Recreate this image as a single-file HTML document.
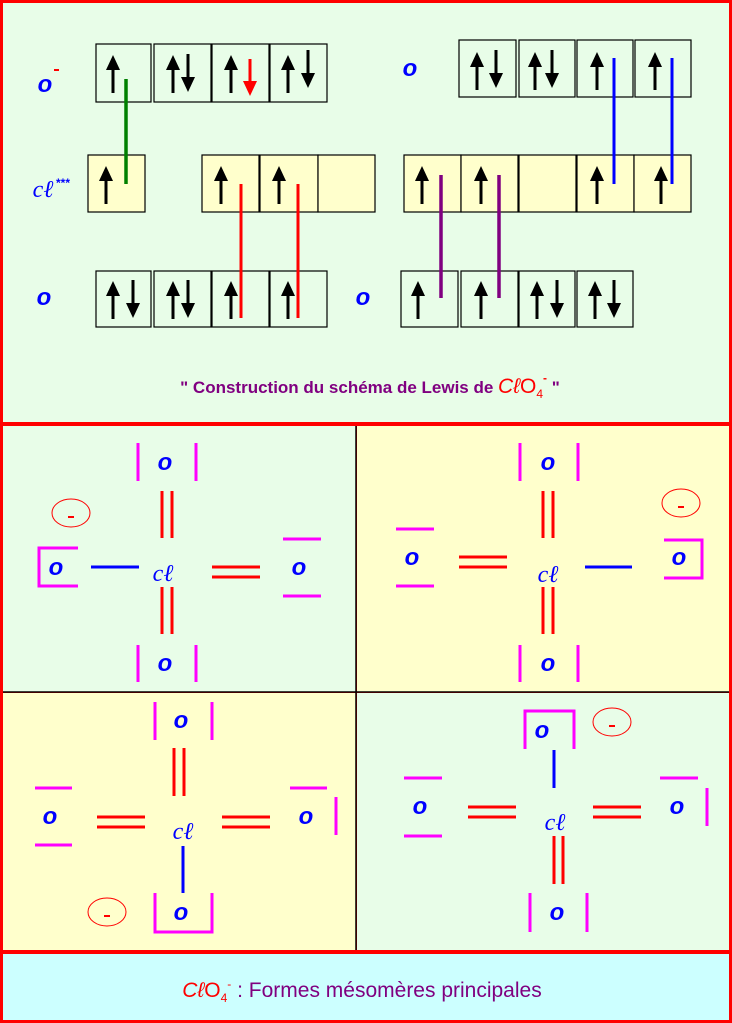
<!DOCTYPE html>
<html><head><meta charset="utf-8"><style>
body{margin:0;width:732px;height:1023px;overflow:hidden;background:#fff}
svg{display:block}
.o{font-family:"Liberation Sans",sans-serif;font-style:italic;font-weight:bold;fill:#0000ff;font-size:24px;text-anchor:middle}
.c{font-family:"Liberation Serif",serif;font-style:italic;fill:#0000ff;font-size:24px;text-anchor:middle}
</style></head><body>
<svg width="732" height="1023" viewBox="0 0 732 1023" xmlns="http://www.w3.org/2000/svg">
<defs>
<g id="up"><line x1="0" y1="12" x2="0" y2="38" stroke="#000" stroke-width="3"/><polygon points="-7,15 7,15 0,0" fill="#000"/></g>
<g id="dn"><line x1="0" y1="0" x2="0" y2="26" stroke="#000" stroke-width="3"/><polygon points="-7,23 7,23 0,38" fill="#000"/></g>
</defs>
<rect x="0" y="0" width="732" height="1023" fill="#ff0000"/>
<rect x="3" y="3" width="726" height="419" fill="#e8fde8"/>
<rect x="3" y="426" width="353" height="266" fill="#e8fde8"/>
<rect x="357" y="426" width="372" height="266" fill="#ffffcc"/>
<rect x="3" y="693" width="353" height="257" fill="#ffffcc"/>
<rect x="357" y="693" width="372" height="257" fill="#e8fde8"/>
<rect x="3" y="954" width="726" height="66" fill="#ccffff"/>
<line x1="356" y1="426" x2="356" y2="950" stroke="#000" stroke-width="1.5"/>
<line x1="3" y1="692" x2="729" y2="692" stroke="#000" stroke-width="1.5"/>

<g stroke="#000" stroke-width="1.2" fill="none">
<rect x="96" y="44" width="55" height="58"/><rect x="154" y="44" width="57" height="58"/><rect x="212" y="44" width="57" height="58"/><rect x="270" y="44" width="57" height="58"/>
<rect x="88" y="155" width="57" height="57" fill="#ffffcc"/>
<rect x="202" y="155" width="57" height="57" fill="#ffffcc"/><rect x="260" y="155" width="58" height="57" fill="#ffffcc"/><rect x="318" y="155" width="57" height="57" fill="#ffffcc"/>
<rect x="96" y="271" width="55" height="56"/><rect x="154" y="271" width="57" height="56"/><rect x="212" y="271" width="57" height="56"/><rect x="270" y="271" width="57" height="56"/>
<rect x="459" y="40" width="57" height="57"/><rect x="519" y="40" width="56" height="57"/><rect x="577" y="40" width="56" height="57"/><rect x="635" y="40" width="56" height="57"/>
<rect x="404" y="155" width="57" height="57" fill="#ffffcc"/><rect x="461" y="155" width="57" height="57" fill="#ffffcc"/><rect x="519" y="155" width="57" height="57" fill="#ffffcc"/><rect x="577" y="155" width="57" height="57" fill="#ffffcc"/><rect x="634" y="155" width="57" height="57" fill="#ffffcc"/>
<rect x="401" y="271" width="57" height="56"/><rect x="461" y="271" width="57" height="56"/><rect x="519" y="271" width="56" height="56"/><rect x="577" y="271" width="56" height="56"/>
</g>
<use href="#up" x="113" y="55"/>
<use href="#up" x="173" y="55"/><use href="#dn" x="188" y="54"/>
<use href="#up" x="231" y="55"/>
<line x1="250" y1="59" x2="250" y2="82" stroke="#f00" stroke-width="3"/><polygon points="243,81 257,81 250,96" fill="#f00"/>
<use href="#up" x="288" y="55"/><use href="#dn" x="308" y="50"/>
<use href="#up" x="106" y="166"/>
<use href="#up" x="221" y="166"/><use href="#up" x="279" y="166"/>
<use href="#up" x="113" y="281"/><use href="#dn" x="133" y="280"/>
<use href="#up" x="173" y="281"/><use href="#dn" x="188" y="280"/>
<use href="#up" x="231" y="281"/><use href="#up" x="288" y="281"/>
<use href="#up" x="477" y="52"/><use href="#dn" x="496" y="50"/>
<use href="#up" x="535" y="52"/><use href="#dn" x="552" y="50"/>
<use href="#up" x="597" y="52"/><use href="#up" x="655" y="52"/>
<use href="#up" x="422" y="166"/><use href="#up" x="481" y="166"/><use href="#up" x="597" y="166"/><use href="#up" x="661" y="166"/>
<use href="#up" x="418" y="281"/><use href="#up" x="481" y="281"/>
<use href="#up" x="537" y="281"/><use href="#dn" x="557" y="280"/>
<use href="#up" x="595" y="281"/><use href="#dn" x="614" y="280"/>
<line x1="126" y1="79" x2="126" y2="184" stroke="#008000" stroke-width="3.5"/>
<line x1="241" y1="184" x2="241" y2="318" stroke="#f00" stroke-width="3"/>
<line x1="298" y1="184" x2="298" y2="318" stroke="#f00" stroke-width="3"/>
<line x1="441" y1="175" x2="441" y2="298" stroke="#800080" stroke-width="3.5"/>
<line x1="499" y1="175" x2="499" y2="298" stroke="#800080" stroke-width="3.5"/>
<line x1="614" y1="58" x2="614" y2="184" stroke="#0000ff" stroke-width="3"/>
<line x1="672" y1="58" x2="672" y2="184" stroke="#0000ff" stroke-width="3"/>
<text class="o" x="45" y="92" font-size="28">o</text><rect x="54" y="69" width="5" height="2" fill="#f00"/>
<text class="c" x="43" y="197" font-size="26">cℓ</text><text x="56" y="187" fill="#00f" font-family="Liberation Sans" font-size="12" font-weight="bold">***</text>
<text class="o" x="44" y="305">o</text>
<text class="o" x="363" y="305">o</text>
<text class="o" x="410" y="76">o</text>
<text x="370" y="393" text-anchor="middle" font-family="Liberation Sans,sans-serif" font-weight="bold" font-size="17" fill="#800080">" Construction du schéma de Lewis de <tspan fill="#f00" font-weight="normal" font-size="21" font-style="italic">Cℓ</tspan><tspan fill="#f00" font-weight="normal" font-size="21">O</tspan><tspan fill="#f00" font-weight="normal" font-size="12" dy="5">4</tspan><tspan fill="#f00" font-size="12" dy="-16">-</tspan><tspan dy="11"> "</tspan></text>

<g stroke-width="3" fill="none">
<g stroke="#ff00ff"><path d="M138,443V481M196,443V481M138,645V682M196,645V682M78,548H39V586H78M283,539H321M283,596H321"/></g>
<g stroke="#f00"><path d="M162,491V538M172,491V538M162,587V634M172,587V634M212,567H260M212,577H260"/></g>
<path d="M91,567H139" stroke="#00f"/>
<ellipse cx="71" cy="513" rx="19" ry="14" stroke="#f00" stroke-width="1"/>
<g stroke="#ff00ff"><path d="M520,443V481M578,443V481M520,645V682M578,645V682M396,529H434M396,586H434M664,540H702V578H664"/></g>
<g stroke="#f00"><path d="M543,491V538M553,491V538M543,587V634M553,587V634M459,557H507M459,567H507"/></g>
<path d="M585,567H632" stroke="#00f"/>
<ellipse cx="681" cy="503" rx="19" ry="14" stroke="#f00" stroke-width="1"/>
<g stroke="#ff00ff"><path d="M155,702V740M212,702V740M155,893V932H212V893M35,788H72M35,845H72M290,788H327M336,797V835"/></g>
<g stroke="#f00"><path d="M174,748V796M184,748V796M97,817H145M97,827H145M222,817H270M222,827H270"/></g>
<path d="M183,846V893" stroke="#00f"/>
<ellipse cx="107" cy="912" rx="19" ry="14" stroke="#f00" stroke-width="1"/>
<g stroke="#ff00ff"><path d="M525,749V711H574V749M530,893V932M587,893V932M404,778H442M404,836H442M660,778H698M707,788V826"/></g>
<g stroke="#f00"><path d="M554,836V884M563,836V884M468,807H516M468,817H516M593,807H641M593,817H641"/></g>
<path d="M554,750V788" stroke="#00f"/>
<ellipse cx="612" cy="722" rx="19" ry="14" stroke="#f00" stroke-width="1"/>
</g>
<g fill="#f00"><rect x="68" y="516" width="6" height="2"/><rect x="678" y="506" width="6" height="2"/><rect x="104" y="915" width="6" height="2"/><rect x="609" y="725" width="6" height="2"/></g>
<g class="o">
<text x="165" y="470">o</text><text x="165" y="671">o</text><text x="56" y="575">o</text><text x="299" y="575">o</text>
<text x="548" y="470">o</text><text x="548" y="671">o</text><text x="412" y="565">o</text><text x="679" y="565">o</text>
<text x="181" y="728">o</text><text x="181" y="920">o</text><text x="50" y="824">o</text><text x="306" y="824">o</text>
<text x="542" y="738">o</text><text x="557" y="920">o</text><text x="420" y="814">o</text><text x="677" y="814">o</text>
</g>
<g class="c">
<text x="163" y="581">cℓ</text><text x="548" y="582">cℓ</text><text x="183" y="839">cℓ</text><text x="555" y="830">cℓ</text>
</g>
<text x="362" y="997" text-anchor="middle" font-family="Liberation Sans,sans-serif" font-size="21" fill="#800080"><tspan fill="#f00" font-style="italic">Cℓ</tspan><tspan fill="#f00">O</tspan><tspan fill="#f00" font-size="12" dy="5">4</tspan><tspan fill="#f00" font-size="12" dy="-14">-</tspan><tspan dy="9"> : Formes mésomères principales</tspan></text>
</svg>
</body></html>
